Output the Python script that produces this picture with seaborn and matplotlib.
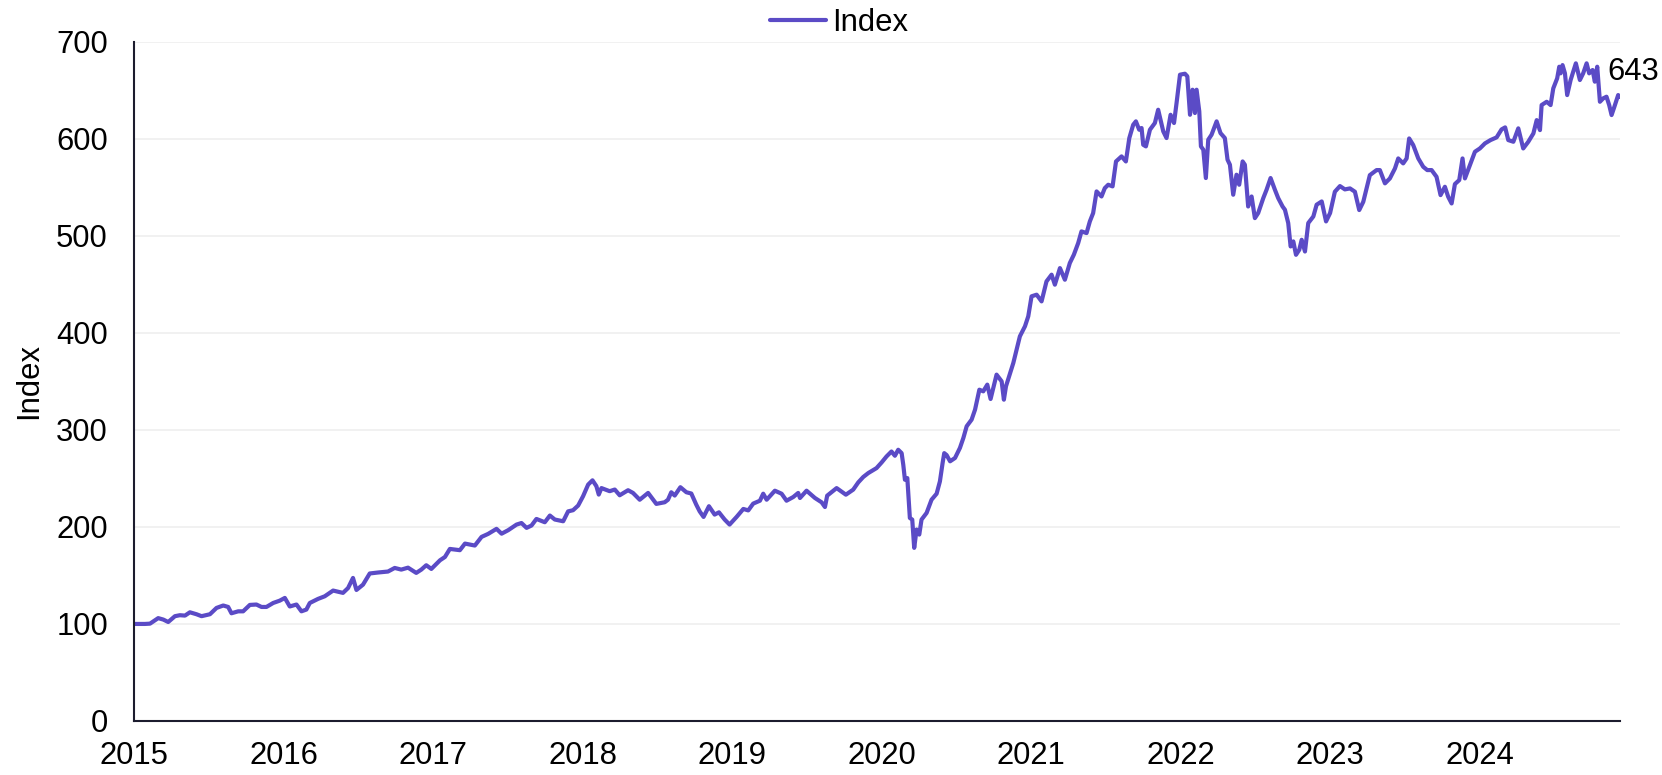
"""
Index level since 2015, line chart
"""

import numpy as np
import pandas as pd
import matplotlib
matplotlib.use("Agg")
import matplotlib.pyplot as plt
import seaborn as sns

sns.set_style("white")
plt.rcParams["font.family"] = ["Liberation Sans", "DejaVu Sans"]
plt.rcParams["text.color"] = "black"
plt.rcParams["xtick.color"] = "black"
plt.rcParams["ytick.color"] = "black"
plt.rcParams["axes.labelcolor"] = "black"

########################################################
# values (decimal year, index level)

years_2015_2016 = [
    2015.004, 2015.071, 2015.105, 2015.160, 2015.194, 2015.227, 2015.272, 2015.305,
    2015.339, 2015.372, 2015.416, 2015.450, 2015.506, 2015.550, 2015.595, 2015.628,
    2015.650, 2015.695, 2015.728, 2015.773, 2015.817, 2015.851, 2015.884, 2015.929,
    2015.973, 2016.007, 2016.040, 2016.085, 2016.118, 2016.151, 2016.174, 2016.229,
    2016.274, 2016.330, 2016.396, 2016.430, 2016.463, 2016.486, 2016.530, 2016.575,
    2016.630, 2016.697, 2016.742, 2016.786, 2016.831, 2016.886, 2016.920, 2016.953,
    2016.987,
]
index_2015_2016 = [
    100, 100, 100.3, 106, 104.5, 102, 108, 109,
    108.6, 112, 110, 108, 110, 116.5, 119, 117.5,
    111, 113, 113, 119.6, 120, 117.5, 117.5, 121.6,
    124, 126.8, 118, 120, 113, 114.8, 121.6, 125.8,
    128.5, 134.4, 132, 137, 147.4, 135, 140.5, 152,
    153, 154, 157.7, 156, 158, 152.6, 156, 160.5,
    156.7,
]

years_2017_2018 = [
    2017.045, 2017.078, 2017.111, 2017.178, 2017.212, 2017.278, 2017.323, 2017.367,
    2017.423, 2017.457, 2017.501, 2017.557, 2017.590, 2017.624, 2017.657, 2017.690,
    2017.746, 2017.780, 2017.813, 2017.869, 2017.902, 2017.935, 2017.969, 2018.002,
    2018.036, 2018.065, 2018.091, 2018.107, 2018.125, 2018.180, 2018.214, 2018.247,
    2018.303, 2018.336, 2018.381, 2018.437, 2018.492, 2018.548, 2018.570, 2018.592,
    2018.615, 2018.653, 2018.693, 2018.726, 2018.759, 2018.782, 2018.808, 2018.844,
    2018.882, 2018.911, 2018.949, 2018.982,
]
index_2017_2018 = [
    165.6, 169, 177.3, 176, 182.8, 180.8, 189.7, 192.8,
    198, 193, 196.6, 202.4, 204, 199, 201.4, 208.2,
    204.8, 211.7, 207.6, 205.8, 216, 217.2, 222, 231.6,
    243.6, 248, 242, 233.3, 240, 236.8, 238.5, 232.6,
    237.8, 235, 228, 235, 223.7, 225.4, 228, 235.7,
    232.3, 240.9, 235.7, 234.4, 223, 216, 210.3, 221.3,
    212.7, 215, 207.6, 202.4,
]

years_2019_2020 = [
    2019.029, 2019.074, 2019.107, 2019.140, 2019.185, 2019.207, 2019.230, 2019.285,
    2019.330, 2019.363, 2019.408, 2019.441, 2019.453, 2019.497, 2019.553, 2019.598,
    2019.620, 2019.635, 2019.698, 2019.760, 2019.809, 2019.843, 2019.876, 2019.910,
    2019.965, 2019.999, 2020.032, 2020.065, 2020.088, 2020.110, 2020.133, 2020.144,
    2020.155, 2020.171, 2020.188, 2020.204, 2020.217, 2020.233, 2020.251, 2020.266,
    2020.300, 2020.333, 2020.367, 2020.389, 2020.407, 2020.418, 2020.434, 2020.457,
    2020.490, 2020.523, 2020.546, 2020.568, 2020.601, 2020.624, 2020.653, 2020.679,
    2020.706, 2020.728, 2020.768, 2020.802, 2020.817, 2020.831, 2020.880, 2020.902,
    2020.924, 2020.958, 2020.980,
]
index_2019_2020 = [
    210.3, 218.5, 217, 224, 227, 234.2, 228, 237.3,
    234.2, 227, 230.8, 235, 229.8, 237.3, 229.8, 225.3,
    220.5, 232.2, 240, 233.2, 238.4, 245.9, 251.4, 255.5,
    260.6, 266.4, 272.6, 277.7, 273.3, 279.5, 276, 264,
    248.6, 250.3, 209.2, 207.5, 178.4, 197.3, 192.1, 207.5,
    214.4, 228, 234.2, 246.9, 265.8, 276, 274, 267.6,
    271, 281.4, 291.7, 303.7, 310.5, 320.8, 341.4, 339.7,
    346.6, 331.8, 356.9, 350, 331.1, 344.9, 368.9, 382.6,
    396.4, 406.7, 417,
]

years_2021_2022 = [
    2021.002, 2021.036, 2021.069, 2021.102, 2021.136, 2021.158, 2021.192, 2021.225,
    2021.258, 2021.285, 2021.314, 2021.336, 2021.370, 2021.392, 2021.414, 2021.437,
    2021.470, 2021.492, 2021.515, 2021.544, 2021.567, 2021.604, 2021.633, 2021.656,
    2021.682, 2021.700, 2021.722, 2021.738, 2021.749, 2021.767, 2021.794, 2021.827,
    2021.849, 2021.883, 2021.905, 2021.932, 2021.955, 2021.972, 2021.995, 2022.028,
    2022.044, 2022.062, 2022.079, 2022.095, 2022.106, 2022.124, 2022.135, 2022.151,
    2022.168, 2022.184, 2022.206, 2022.240, 2022.266, 2022.295, 2022.313, 2022.329,
    2022.351, 2022.373, 2022.391, 2022.414, 2022.429, 2022.451, 2022.474, 2022.496,
    2022.518, 2022.552, 2022.574, 2022.601, 2022.630, 2022.652, 2022.681, 2022.697,
    2022.719, 2022.735, 2022.753, 2022.771, 2022.793, 2022.809, 2022.831, 2022.853,
    2022.887, 2022.909, 2022.943, 2022.972, 2022.999,
]
index_2021_2022 = [
    437.6, 439.3, 432.4, 453, 459.9, 449.6, 466.7, 454.7,
    471.9, 480.5, 492.5, 504.5, 502.8, 514.8, 523.4, 545.7,
    540.5, 549.1, 552.6, 550.9, 576.6, 581.8, 576.6, 600.7,
    614.4, 617.9, 609.3, 611, 593.8, 592.1, 609.3, 616.2,
    629.9, 607.6, 600.7, 624.7, 616.2, 636.8, 666, 667,
    664.3, 624.7, 650.5, 626.5, 650.5, 628.2, 592.1, 588.7,
    559.5, 599, 604.1, 617.9, 605.8, 600.7, 578.4, 573.2,
    542.3, 562.9, 552.6, 576.6, 573.2, 530.2, 540.5, 518.2,
    523.4, 538.8, 547.4, 559.5, 547.4, 538.8, 530.2, 526.8,
    513.1, 489, 494.2, 480.4, 485.6, 495.9, 483.8, 513.1,
    519.9, 532, 535.4, 514.8, 523.4,
]

years_2023_2024 = [
    2023.031, 2023.065, 2023.098, 2023.132, 2023.165, 2023.194, 2023.221, 2023.265,
    2023.310, 2023.332, 2023.366, 2023.399, 2023.433, 2023.455, 2023.488, 2023.511,
    2023.528, 2023.555, 2023.589, 2023.622, 2023.649, 2023.678, 2023.711, 2023.738,
    2023.767, 2023.789, 2023.812, 2023.834, 2023.863, 2023.885, 2023.901, 2023.930,
    2023.968, 2024.001, 2024.035, 2024.072, 2024.113, 2024.146, 2024.170, 2024.191,
    2024.225, 2024.258, 2024.291, 2024.325, 2024.359, 2024.381, 2024.403, 2024.414,
    2024.448, 2024.474, 2024.492, 2024.518, 2024.532, 2024.541, 2024.554, 2024.570,
    2024.585, 2024.608, 2024.643, 2024.670, 2024.692, 2024.715, 2024.732, 2024.755,
    2024.770, 2024.786, 2024.804, 2024.826, 2024.848, 2024.866, 2024.882, 2024.900,
    2024.926, 2024.938,
]
index_2023_2024 = [
    545.4, 551.2, 547.8, 548.8, 545.4, 526.5, 535, 562.5,
    567.7, 567.7, 554, 559.1, 569.4, 579.7, 574.6, 579.7,
    600.3, 593.5, 579.7, 571.1, 567.7, 567.7, 560.8, 541.9,
    550.5, 540.2, 533.3, 553.3, 557.4, 579.7, 559.1, 571.1,
    586.6, 590, 595.2, 598.6, 601.4, 609.6, 611.7, 598.6,
    596.9, 610.7, 590, 596.9, 605.5, 619.2, 608.9, 634.7,
    638.1, 634.7, 651.9, 662.2, 674.2, 667.4, 675.9, 667.4,
    645, 660.5, 677.7, 660.5, 667.4, 677.7, 667.4, 670.8,
    658.8, 674.2, 638.1, 641.6, 643.3, 634.7, 624.4, 632.6,
    645, 643,
]

year_ticks = [2015, 2016, 2017, 2018, 2019, 2020, 2021, 2022, 2023, 2024]
y_ticks = [0, 100, 200, 300, 400, 500, 600, 700]

LINE_COLOR = "#5b4bc6"
AXIS_COLOR = "#1c1c2e"
FONT_SIZE = 22.3

########################################################

df = pd.DataFrame({
    "year": years_2015_2016 + years_2017_2018 + years_2019_2020
    + years_2021_2022 + years_2023_2024,
    "Index": index_2015_2016 + index_2017_2018 + index_2019_2020
    + index_2021_2022 + index_2023_2024,
})

fig = plt.figure(figsize=(16.62, 7.75), dpi=100)
ax = fig.add_axes([0.0808, 0.0697, 0.8939, 0.8765])

sns.lineplot(
    data=df,
    x="year",
    y="Index",
    ax=ax,
    color=LINE_COLOR,
    linewidth=3.0,
    label="Index",
    legend=False
)

ax.set_xlim(2015, df["year"].iloc[-1])
ax.set_ylim(0, 700)

ax.set_xticks(year_ticks)
ax.set_xticklabels([str(y) for y in year_ticks])
ax.set_yticks(y_ticks)

ax.yaxis.grid(True, color="#eeeeee", linewidth=1.1)
ax.xaxis.grid(False)
ax.set_axisbelow(True)

for side in ["top", "right"]:
    ax.spines[side].set_visible(False)

for side in ["left", "bottom"]:
    ax.spines[side].set_color(AXIS_COLOR)
    ax.spines[side].set_linewidth(1.5)

ax.tick_params(
    axis="x", direction="inout", length=13, width=1.3,
    color=AXIS_COLOR, labelsize=FONT_SIZE, pad=8
)
ax.tick_params(
    axis="y", direction="out", length=6.5, width=1.3,
    color=AXIS_COLOR, labelsize=FONT_SIZE, pad=12.5
)

ax.set_xlabel("")
ax.set_ylabel("Index", fontsize=FONT_SIZE, labelpad=9)

# last value label
last_x = df["year"].iloc[-1]
last_y = df["Index"].iloc[-1]

ax.annotate(
    f"{last_y:.0f}",
    xy=(last_x, last_y),
    xytext=(-13, 17),
    textcoords="offset pixels",
    ha="left",
    va="baseline",
    fontsize=FONT_SIZE,
    annotation_clip=False
)

handles, labels = ax.get_legend_handles_labels()

fig.legend(
    handles,
    labels,
    loc="upper center",
    bbox_to_anchor=(0.505, 1.026),
    frameon=False,
    fontsize=FONT_SIZE,
    handlelength=1.8,
    handletextpad=0.2
)

fig.savefig("out.png", dpi=100)

plt.close()
